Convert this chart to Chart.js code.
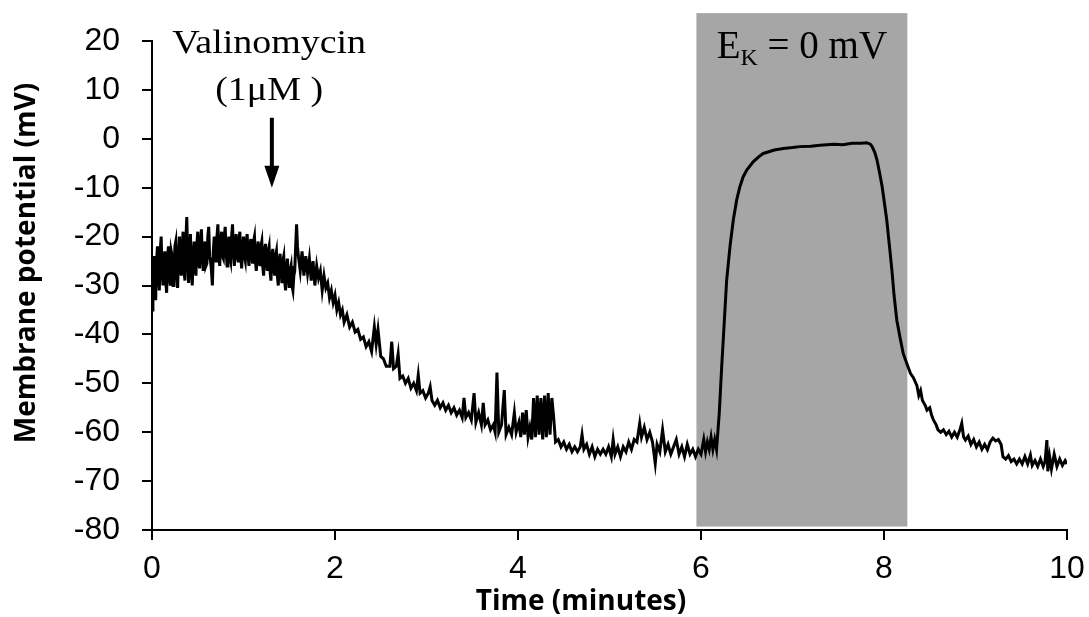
<!DOCTYPE html>
<html>
<head>
<meta charset="utf-8">
<script src="https://cdn.jsdelivr.net/npm/chart.js@4"></script>
<style>
  html, body { margin: 0; padding: 0; background: #fff; }
  canvas { display: block; }
</style>
</head>
<body>
<canvas id="trace" width="1089" height="617"></canvas>
<script>
// time (minutes) and membrane potential (mV)
const timeMin = [
  0.00, 0.01, 0.02, 0.03, 0.04, 0.05, 0.06, 0.07, 0.08, 0.09, 0.10, 0.11, 0.12, 0.13, 0.14, 0.15,
  0.16, 0.17, 0.18, 0.19, 0.20, 0.21, 0.22, 0.23, 0.24, 0.25, 0.26, 0.27, 0.28, 0.29, 0.30, 0.31,
  0.32, 0.33, 0.34, 0.35, 0.36, 0.37, 0.38, 0.39, 0.40, 0.41, 0.42, 0.43, 0.44, 0.45, 0.46, 0.47,
  0.48, 0.49, 0.50, 0.51, 0.52, 0.53, 0.54, 0.55, 0.56, 0.57, 0.58, 0.59, 0.60, 0.61, 0.62, 0.63,
  0.64, 0.65, 0.66, 0.67, 0.68, 0.69, 0.70, 0.71, 0.72, 0.73, 0.74, 0.75, 0.76, 0.77, 0.78, 0.79,
  0.80, 0.81, 0.82, 0.83, 0.84, 0.85, 0.86, 0.87, 0.88, 0.89, 0.90, 0.91, 0.92, 0.93, 0.94, 0.95,
  0.96, 0.97, 0.98, 0.99, 1.00, 1.01, 1.02, 1.03, 1.04, 1.05, 1.06, 1.07, 1.08, 1.09, 1.10, 1.11,
  1.12, 1.13, 1.14, 1.15, 1.16, 1.17, 1.18, 1.19, 1.20, 1.21, 1.22, 1.23, 1.24, 1.25, 1.26, 1.27,
  1.28, 1.29, 1.30, 1.31, 1.32, 1.33, 1.34, 1.35, 1.36, 1.37, 1.38, 1.39, 1.40, 1.41, 1.42, 1.43,
  1.44, 1.45, 1.46, 1.47, 1.48, 1.49, 1.50, 1.51, 1.52, 1.53, 1.54, 1.55, 1.56, 1.57, 1.58, 1.59,
  1.60, 1.62, 1.64, 1.66, 1.68, 1.70, 1.72, 1.74, 1.76, 1.78, 1.80, 1.82, 1.84, 1.86, 1.88, 1.90,
  1.92, 1.94, 1.96, 1.98, 2.00, 2.02, 2.04, 2.06, 2.08, 2.10, 2.13, 2.16, 2.19, 2.22, 2.25, 2.28,
  2.31, 2.34, 2.37, 2.40, 2.43, 2.45, 2.47, 2.50, 2.53, 2.56, 2.60, 2.62, 2.64, 2.67, 2.69, 2.71,
  2.74, 2.77, 2.80, 2.83, 2.86, 2.89, 2.91, 2.93, 2.96, 2.99, 3.02, 3.04, 3.06, 3.09, 3.12, 3.15,
  3.18, 3.21, 3.24, 3.27, 3.30, 3.33, 3.36, 3.39, 3.41, 3.43, 3.46, 3.49, 3.52, 3.54, 3.57, 3.60,
  3.62, 3.64, 3.67, 3.70, 3.73, 3.75, 3.77, 3.79, 3.82, 3.85, 3.87, 3.90, 3.93, 3.96, 3.98, 4.01,
  4.03, 4.05, 4.07, 4.09, 4.11, 4.13, 4.15, 4.17, 4.19, 4.21, 4.23, 4.25, 4.27, 4.29, 4.31, 4.33,
  4.35, 4.37, 4.39, 4.41, 4.44, 4.47, 4.50, 4.53, 4.56, 4.59, 4.62, 4.65, 4.68, 4.70, 4.72, 4.75,
  4.78, 4.81, 4.84, 4.87, 4.90, 4.93, 4.96, 4.99, 5.02, 5.04, 5.06, 5.09, 5.12, 5.15, 5.18, 5.21,
  5.24, 5.27, 5.30, 5.33, 5.35, 5.38, 5.41, 5.44, 5.47, 5.50, 5.52, 5.55, 5.58, 5.61, 5.64, 5.67,
  5.70, 5.73, 5.76, 5.79, 5.82, 5.85, 5.88, 5.91, 5.94, 5.97, 6.00, 6.03, 6.05, 6.07, 6.09, 6.11,
  6.13, 6.15, 6.17, 6.20, 6.225, 6.245, 6.28, 6.317, 6.353, 6.39, 6.425, 6.46, 6.50, 6.57, 6.63, 6.68,
  6.75, 6.80, 6.90, 7.00, 7.08, 7.20, 7.30, 7.45, 7.55, 7.65, 7.75, 7.81, 7.85, 7.87, 7.90, 7.923,
  7.95, 7.98, 8.00, 8.03, 8.06, 8.086, 8.11, 8.14, 8.18, 8.21, 8.25, 8.29, 8.32, 8.36, 8.38, 8.40,
  8.42, 8.45, 8.47, 8.50, 8.52, 8.54, 8.57, 8.59, 8.62, 8.65, 8.68, 8.71, 8.74, 8.77, 8.80, 8.83,
  8.85, 8.87, 8.89, 8.92, 8.95, 8.98, 9.01, 9.04, 9.07, 9.10, 9.13, 9.16, 9.19, 9.22, 9.25, 9.28,
  9.30, 9.33, 9.36, 9.39, 9.42, 9.45, 9.48, 9.51, 9.54, 9.57, 9.60, 9.62, 9.65, 9.68, 9.71, 9.74,
  9.76, 9.78, 9.79, 9.81, 9.83, 9.86, 9.89, 9.92, 9.95, 9.98, 10.00
];
const potentialMv = [
  -35, -27, -24, -30, -33, -25, -22, -28, -31, -23, -20, -27, -30, -25, -23, -29,
  -31.5, -24, -22, -28, -30, -23, -24, -30, -29, -22, -21, -28, -30.5, -24, -20, -26,
  -28, -22, -19, -27, -29, -21, -16, -24, -29.5, -23, -19.5, -27, -30, -24, -21, -26,
  -28, -22, -19, -25, -26.5, -21, -18.5, -24, -27, -23, -21, -26, -25.5, -20, -18, -24,
  -25, -27, -30, -23, -20, -23, -25, -20, -17.5, -23, -26, -21, -19, -24, -24.5, -20,
  -18, -23, -26, -22, -20, -24, -25, -20, -17.5, -23, -26, -21, -19.5, -24, -25, -21,
  -19, -24, -26.5, -22, -20, -24, -25, -21, -19.5, -24, -26, -22, -20.5, -24, -25.5, -21,
  -20, -25, -27, -23, -21, -25, -26, -22, -21, -26, -28, -23, -21.5, -25, -27, -23,
  -22, -27, -29, -24, -22.5, -26, -28, -24, -23, -28, -30, -25, -23.5, -27, -29.5, -25,
  -24, -29, -31, -26, -24.5, -28, -30.5, -27, -26, -30, -31, -28, -27, -22, -17.5, -22,
  -24, -27, -23, -28, -24, -27.5, -24.5, -29, -25, -30, -26, -28.5, -27, -31, -28, -30.5,
  -29.5, -32.5, -31, -33.5, -32, -35, -33.5, -36, -35, -37.5, -36, -38.5, -37.5, -39.5, -39, -41,
  -40.5, -42.5, -41.5, -43.5, -38.5, -42, -39, -44.5, -45, -46.5, -46.5, -41.5, -47, -46.5, -44, -49,
  -48.5, -50, -49, -51, -50, -51.5, -48.3, -52, -51.5, -53, -52, -50.7, -53.5, -54.5, -53.5, -55,
  -54, -55.5, -54.5, -56, -55, -56.5, -55.5, -57, -53, -57, -56, -57.5, -52, -58, -56, -58.5,
  -54, -58.5, -57.5, -59.5, -58.5, -60, -47.8, -60, -58.5, -51.4, -60.5, -59, -60.5, -56, -60, -58,
  -61, -56, -60.5, -55.5, -61, -59, -61.5, -53, -61, -52.5, -60.5, -53, -61.5, -52.5, -61, -52,
  -60.5, -53, -57, -62, -61.5, -63, -62, -63.5, -62.5, -64, -63, -64, -63, -60.5, -63.5, -62.5,
  -64.5, -63, -65, -63.5, -64.5, -63.5, -64.5, -63, -65, -61.5, -64.5, -63, -65, -63, -64, -62,
  -63.5, -61.5, -62, -58.2, -61, -59, -61.5, -60, -62, -66.4, -62.5, -64, -59.5, -64, -62.5, -64.5,
  -63, -61.5, -64.5, -63, -65, -62.5, -64.5, -63.5, -65, -63.5, -64.5, -61.5, -64, -62, -63.5, -61,
  -63.5, -61.5, -63.5, -56, -47, -40.5, -29, -22, -16.6, -12.5, -9.8, -7.8, -6.4, -4.7, -3.7, -3.0,
  -2.6, -2.3, -2.0, -1.8, -1.6, -1.5, -1.3, -1.1, -1.2, -0.9, -0.9, -0.8, -1.1, -1.6, -2.8, -4.3,
  -6.8, -9.8, -12.5, -16.6, -22, -26.8, -32, -37.1, -41.1, -43.9, -46, -48, -48.8, -50.5, -52.5, -51.5,
  -53.5, -54.5, -55.5, -55, -56.5, -57.5, -58.5, -59.5, -60, -59.5, -60.5, -59.8, -61, -60, -61, -59.5,
  -58.2, -61, -61.6, -60.8, -62.5, -61.5, -63, -62, -63.5, -62.5, -63.6, -62, -61.2, -61.8, -61.5, -62.5,
  -65, -65.5, -64.8, -66, -65.5, -66.5, -65.5, -66.5, -65, -66.5, -64.7, -66.8, -65.8, -67, -65.5, -67,
  -66, -61.6, -68, -65, -67.5, -64.5, -67, -65.5, -66.8, -65.8, -66.5
];

const xRange = [0, 10];
const yRange = [-80, 20];
const xStep = 2;
const yStep = 10;

// high-K+ (E_K = 0 mV) perfusion window, minutes
const kWindow = [5.95, 8.255];
const kBoxMv = [-79.3, 25.7];
// valinomycin addition
const valinoTime = 1.31;
const valinoArrowMv = [4.3, -10];

const annotations = {
  id: 'annotations',
  beforeDatasetsDraw(chart) {
    const { ctx, scales: { x, y } } = chart;
    ctx.save();
    const left = x.getPixelForValue(kWindow[0]);
    const right = x.getPixelForValue(kWindow[1]);
    const top = y.getPixelForValue(kBoxMv[1]);
    const bottom = y.getPixelForValue(kBoxMv[0]);
    ctx.fillStyle = '#a6a6a6';
    ctx.fillRect(left, top, right - left, bottom - top);
    ctx.restore();
  },
  afterDatasetsDraw(chart) {
    const { ctx, scales: { x, y } } = chart;
    ctx.save();
    ctx.fillStyle = '#000';
    ctx.strokeStyle = '#000';

    // Valinomycin label, slightly wide serif
    const cx = x.getPixelForValue(valinoTime - 0.03);
    ctx.font = '33px "Liberation Serif", "Times New Roman", serif';
    ctx.textAlign = 'center';
    ctx.textBaseline = 'alphabetic';
    ctx.save();
    ctx.translate(cx, y.getPixelForValue(17.5));
    ctx.scale(1.15, 1);
    ctx.fillText('Valinomycin', 0, 0);
    ctx.restore();
    ctx.save();
    ctx.translate(cx, y.getPixelForValue(7.9));
    ctx.scale(1.15, 1);
    ctx.fillText('(1\u03bcM )', 0, 0);
    ctx.restore();

    // arrow
    const ax = x.getPixelForValue(valinoTime);
    const ay0 = y.getPixelForValue(valinoArrowMv[0]);
    const ay1 = y.getPixelForValue(valinoArrowMv[1]);
    ctx.lineWidth = 4;
    ctx.beginPath();
    ctx.moveTo(ax, ay0);
    ctx.lineTo(ax, ay1 - 18);
    ctx.stroke();
    ctx.beginPath();
    ctx.moveTo(ax - 7.5, ay1 - 22);
    ctx.lineTo(ax + 7.5, ay1 - 22);
    ctx.lineTo(ax, ay1);
    ctx.closePath();
    ctx.fill();

    // E_K = 0 mV
    const big = '39px "Liberation Serif", "Times New Roman", serif';
    const small = '24px "Liberation Serif", "Times New Roman", serif';
    const base = y.getPixelForValue(16.5);
    ctx.font = big;
    const wE = ctx.measureText('E').width;
    const wRest = ctx.measureText(' = 0 mV').width;
    ctx.font = small;
    const wK = ctx.measureText('K').width;
    const total = wE + wK + wRest;
    const mid = (x.getPixelForValue(kWindow[0]) + x.getPixelForValue(kWindow[1])) / 2;
    let px = mid - total / 2;
    ctx.textAlign = 'left';
    ctx.font = big;
    ctx.fillText('E', px, base);
    px += wE;
    ctx.font = small;
    ctx.fillText('K', px, base + 7);
    px += wK;
    ctx.font = big;
    ctx.fillText(' = 0 mV', px, base);
    ctx.restore();
  },
  afterDraw(chart) {
    const { ctx } = chart;
    ctx.save();
    ctx.fillStyle = '#000';
    ctx.font = 'bold 28px "Open Sans", sans-serif';
    ctx.textAlign = 'center';
    ctx.textBaseline = 'alphabetic';
    ctx.fillText('Time (minutes)', 581, 610);
    ctx.translate(35, 263);
    ctx.rotate(-Math.PI / 2);
    ctx.fillText('Membrane potential (mV)', 0, 0);
    ctx.restore();
  }
};

const tickFont = { family: '"Liberation Sans", Arial, sans-serif', size: 32 };

new Chart(document.getElementById('trace').getContext('2d'), {
  type: 'line',
  data: {
    datasets: [{
      data: timeMin.map((t, i) => ({ x: t, y: potentialMv[i] })),
      borderColor: '#000',
      borderWidth: 3,
      pointRadius: 0,
      tension: 0,
      fill: false
    }]
  },
  options: {
    responsive: false,
    devicePixelRatio: 1,
    animation: false,
    layout: { padding: { left: 0, right: 22, top: 41, bottom: 0 } },
    plugins: { legend: { display: false }, tooltip: { enabled: false } },
    scales: {
      x: {
        type: 'linear',
        min: xRange[0], max: xRange[1],
        afterFit(s) { s.height = 87; s.paddingLeft = 0; s.paddingRight = 0; },
        ticks: { stepSize: xStep, color: '#000', font: tickFont, padding: 10, maxRotation: 0 },
        grid: { display: true, drawOnChartArea: false, drawTicks: true, tickLength: 10, color: '#000', lineWidth: 2 },
        border: { display: true, color: '#000', width: 2 }
      },
      y: {
        type: 'linear',
        min: yRange[0], max: yRange[1],
        afterFit(s) { s.width = 152; s.paddingTop = 0; s.paddingBottom = 0; },
        ticks: { stepSize: yStep, color: '#000', font: tickFont, padding: 22 },
        grid: { display: true, drawOnChartArea: false, drawTicks: true, tickLength: 10, color: '#000', lineWidth: 2 },
        border: { display: true, color: '#000', width: 2 }
      }
    }
  },
  plugins: [annotations]
});
</script>
</body>
</html>
